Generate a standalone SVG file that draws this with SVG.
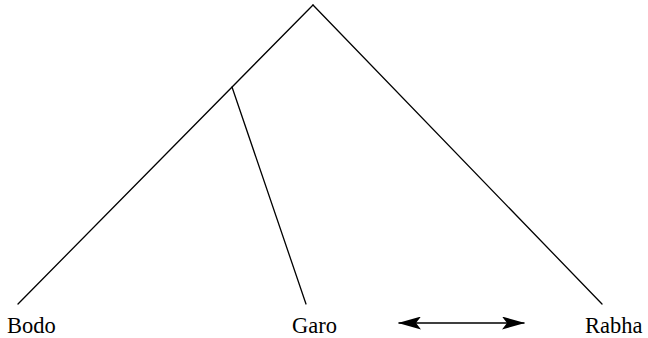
<svg xmlns="http://www.w3.org/2000/svg" width="648" height="338" viewBox="0 0 648 338">
<style>
.e{stroke:#000;stroke-width:1.3;fill:none;stroke-linecap:round}
.t{font-family:"Liberation Serif","Times New Roman",serif;font-size:22.5px;fill:#000}
</style>
<defs>
<marker id="ah" viewBox="0 0 23 13" refX="22" refY="6.5" markerWidth="23" markerHeight="13" markerUnits="userSpaceOnUse" orient="auto-start-reverse">
<path d="M23,6.5 L0,0 L5,6.5 L0,13 Z" fill="#000"/>
</marker>
</defs>
<rect width="648" height="338" fill="#fff"/>
<g id="connectors">
<line class="e" x1="313" y1="5" x2="18" y2="304"/>
<line class="e" x1="313" y1="5" x2="602" y2="304"/>
<line class="e" x1="232" y1="87" x2="306" y2="304"/>
<line class="e" x1="399" y1="323" x2="524" y2="323" marker-start="url(#ah)" marker-end="url(#ah)"/>
</g>
<g id="bodo"><text class="t" x="7" y="333">Bodo</text></g>
<g id="garo"><text class="t" x="292" y="333">Garo</text></g>
<g id="rabha"><text class="t" x="585" y="333">Rabha</text></g>
</svg>
